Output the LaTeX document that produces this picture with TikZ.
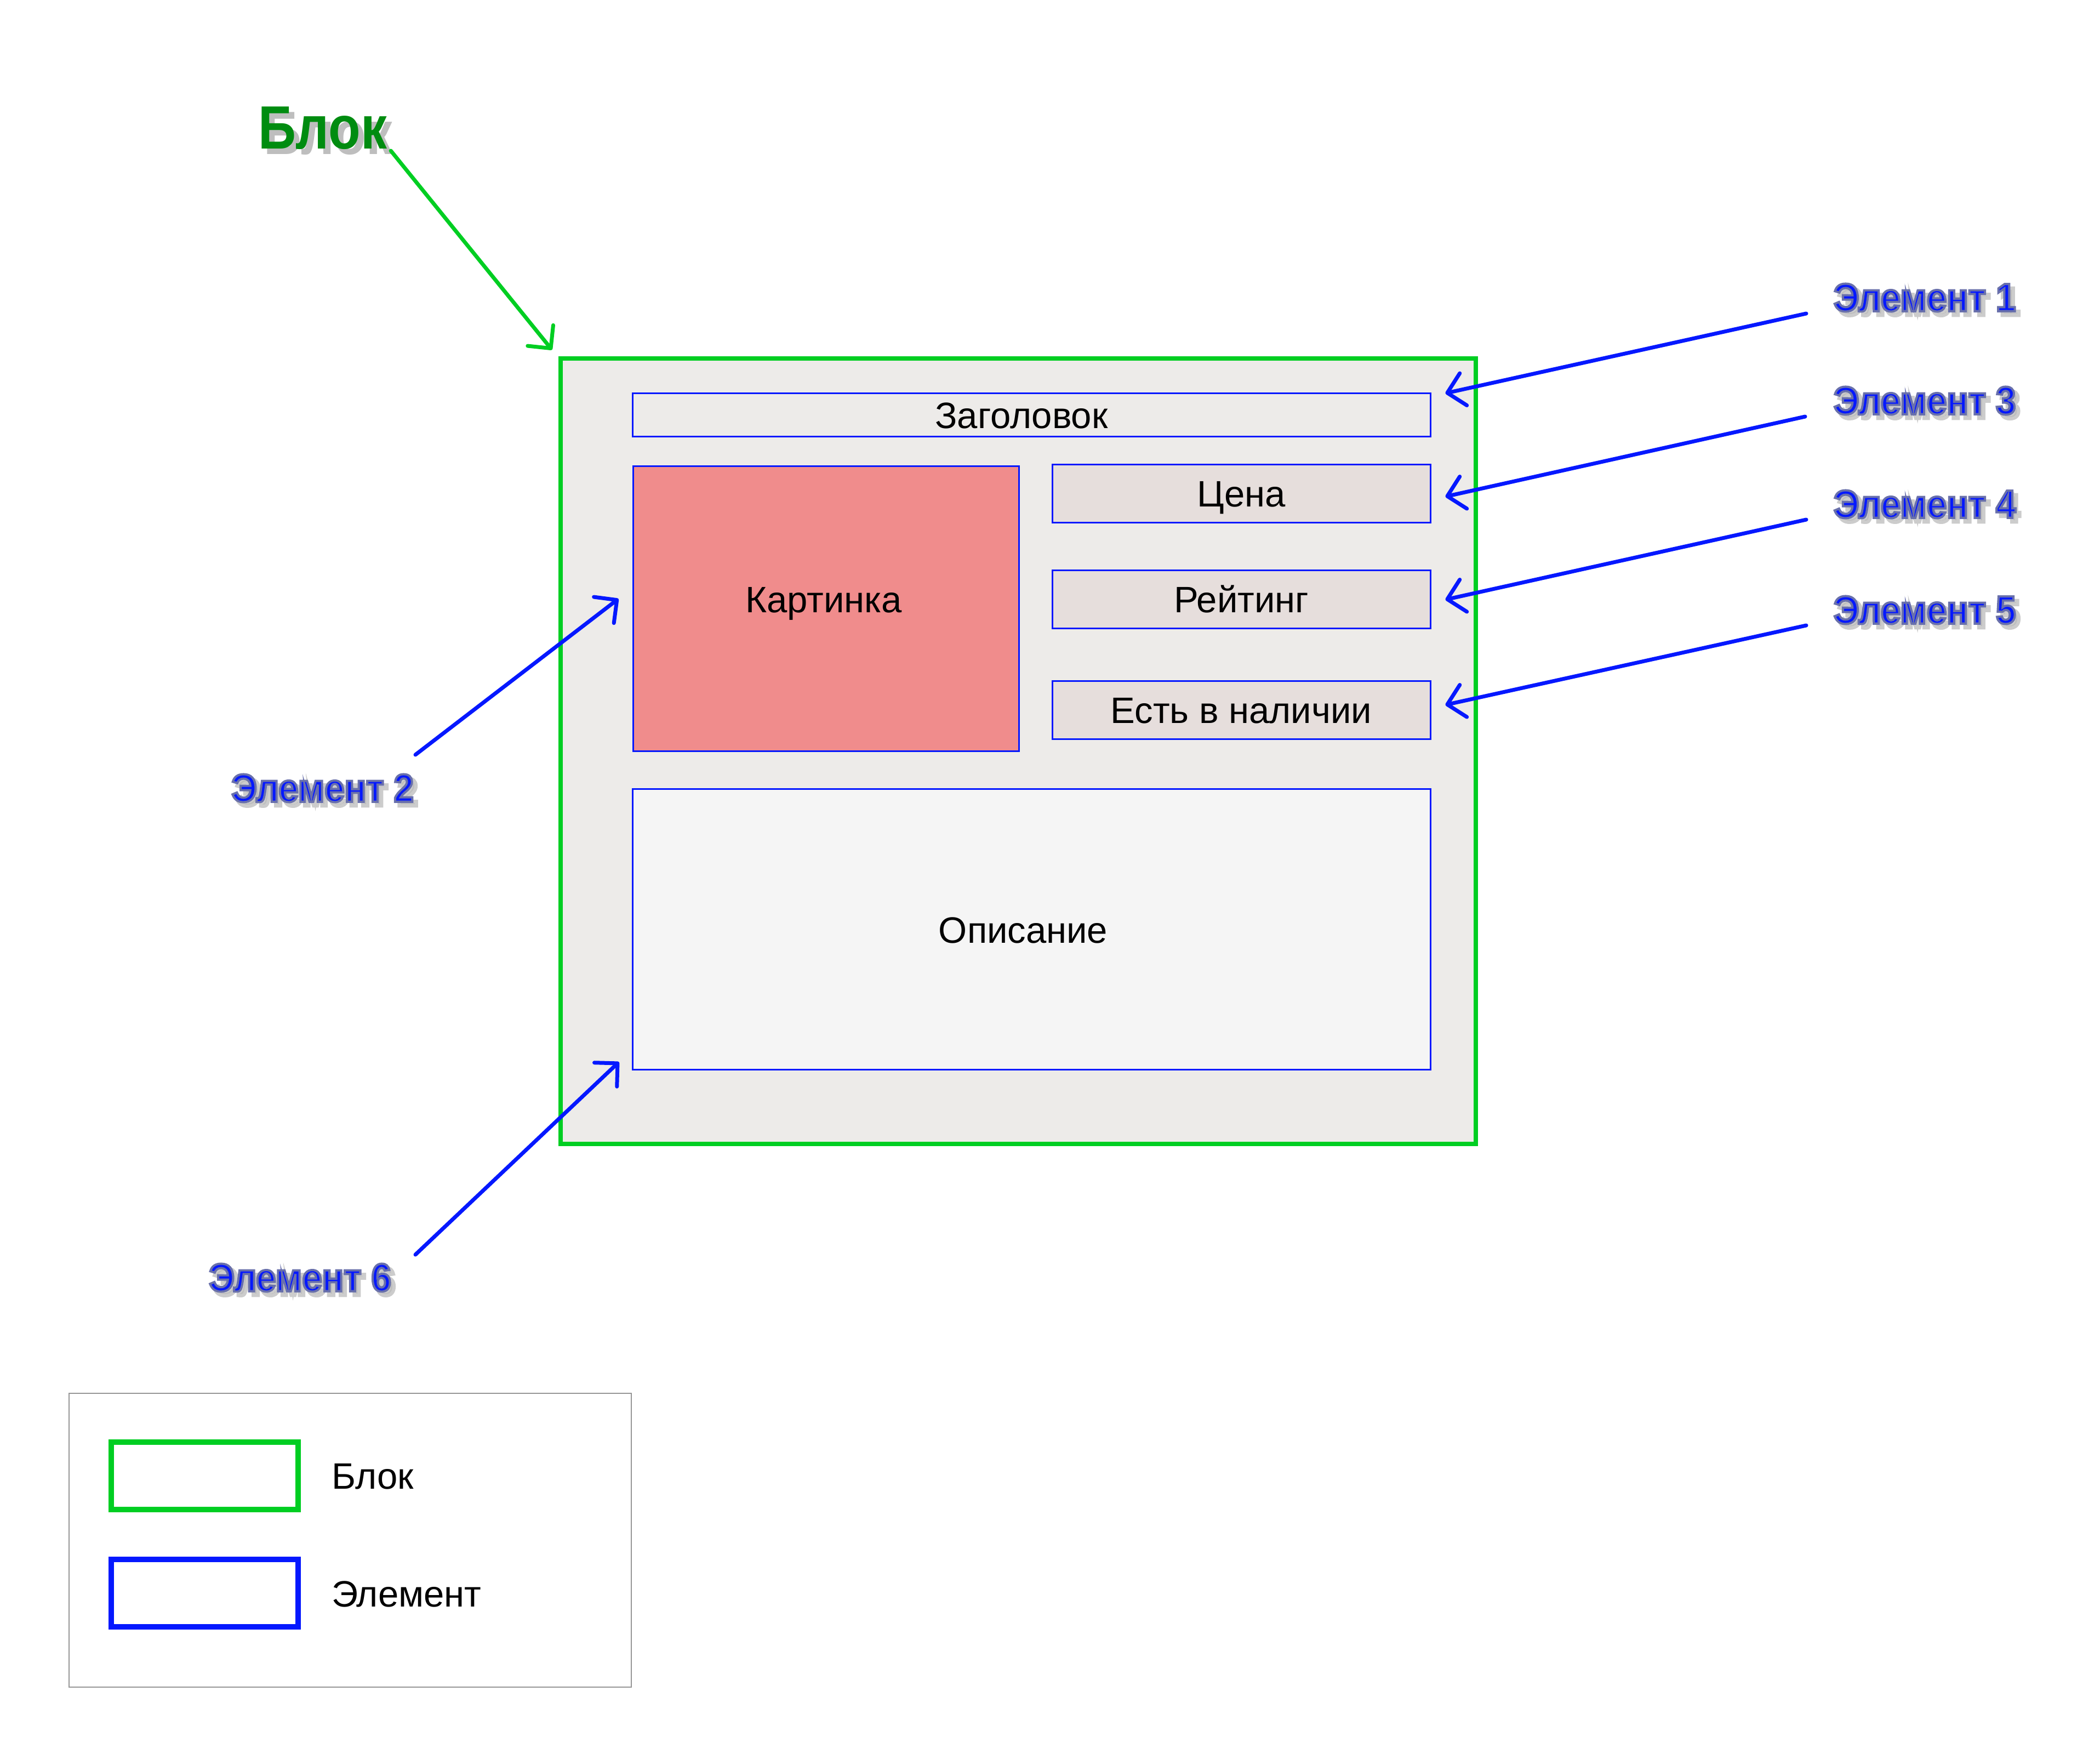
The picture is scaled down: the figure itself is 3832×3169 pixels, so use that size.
\documentclass[tikz,border=0pt]{standalone}
\usepackage{fontspec}
\setmainfont{Liberation Sans}
\newfontfamily\condbold[FakeStretch=0.91]{Liberation Sans}
\newfontfamily\titlebold[FakeStretch=0.86]{Liberation Sans}
\usetikzlibrary{arrows.meta,calc}
\definecolor{blkgreen}{RGB}{0,206,34}
\definecolor{titlegreen}{RGB}{0,140,16}
\definecolor{elblue}{RGB}{5,24,255}
\definecolor{mainfill}{RGB}{237,235,233}
\definecolor{pinkfill}{RGB}{240,140,140}
\definecolor{smallfill}{RGB}{230,222,220}
\definecolor{descfill}{RGB}{245,245,245}
\definecolor{legframe}{RGB}{150,150,150}
\definecolor{shadowgray}{RGB}{190,190,190}
% outlined text: fill from current colour, stroke in the given rgb
\newcommand{\outlinedtext}[3]{\special{pdf:literal direct 2 Tr #1 w #2 RG}#3\special{pdf:literal direct 0 Tr 0.4 w}}
\newcommand{\elemlabel}[4]{% name, anchor, position, text
  \node[elemtxt, anchor=#2, text=shadowgray, xshift=1.5pt, yshift=-1.5pt] (#1-sh) at (#3) {\outlinedtext{1.2}{0.80 0.80 0.80}{#4}};
  \node[elemtxt, anchor=#2, text=elblue] (#1) at (#3) {\outlinedtext{0.8}{0.41 0.44 0.67}{#4}};
}
\begin{document}
\begin{tikzpicture}[x=0.2pt,y=-0.2pt,
  elemtxt/.style={inner sep=0pt, font=\condbold\bfseries\fontsize{14.4pt}{16pt}\selectfont, text height=10.3pt, text depth=0pt},
  titletxt/.style={inner sep=0pt, font=\titlebold\bfseries\fontsize{22.3pt}{25pt}\selectfont, text height=16pt, text depth=0pt},
  plain/.style={inner sep=0pt, font=\fontsize{13.4pt}{15pt}\selectfont, text height=9.6pt, text depth=0pt},
  elbox/.style={plain, draw=elblue, line width=0.6pt},
  arr/.style={line width=1.4pt, line cap=round, line join=round, -{Straight Barb[length=6pt,width=12pt,line cap=round,line join=round]}},
]
\fill[white] (0,0) rectangle (3832,3169);
\useasboundingbox (0,0) rectangle (3832,3169);

% main block
\node[draw=blkgreen, line width=1.5pt, fill=mainfill, inner sep=0pt, minimum width=334pt, minimum height=286.6pt] (main) at (1858,1370.5) {};

% elements
\node[elbox, fill=mainfill, minimum width=291pt, minimum height=15.8pt] (zag) at (1882.5,757.5) {};
\node[plain] (zagt) at (1864,757.5) {Заголовок};
\node[elbox, fill=pinkfill, minimum width=140.8pt, minimum height=103.8pt] (kart) at (1507,1110.5) {};
\node[plain] (kartt) at (1503,1094) {Картинка};
\node[elbox, fill=smallfill, minimum width=138pt, minimum height=21.2pt] (cena) at (2265,901) {Цена};
\node[elbox, fill=smallfill, minimum width=138pt, minimum height=21.2pt] (reit) at (2265,1094) {Рейтинг};
\node[elbox, fill=smallfill, minimum width=138pt, minimum height=21.2pt] (nal) at (2265,1296) {Есть в наличии};
\node[elbox, fill=descfill, minimum width=291pt, minimum height=102.2pt] (opis) at (1882.5,1695.5) {};
\node[plain] (opist) at (1867,1697) {Описание};

% title
\node[titletxt, anchor=west, text=shadowgray, xshift=2pt, yshift=-2pt] (blk-sh) at (470,232) {Блок};
\node[titletxt, anchor=west, text=titlegreen] (blk) at (470,232) {Блок};

% element labels
\elemlabel{e1}{west}{3345,542}{Элемент 1}
\elemlabel{e3}{west}{3345,730}{Элемент 3}
\elemlabel{e4}{west}{3345,919}{Элемент 4}
\elemlabel{e5}{west}{3345,1112}{Элемент 5}
\elemlabel{e2}{east}{756,1437}{Элемент 2}
\elemlabel{e6}{east}{715,2330}{Элемент 6}

% arrows
\draw[arr, draw=blkgreen] ($(blk.east)+(6,43)$) -- ($(main.north west)+(-12,-12)$);
\draw[arr, draw=elblue] ($(e1.west)+(-49,30)$) -- ($(zag.east)+(26,-40)$);
\draw[arr, draw=elblue] ($(e3.west)+(-51,30)$) -- ($(cena.east)+(26,5)$);
\draw[arr, draw=elblue] ($(e4.west)+(-49,29)$) -- ($(reit.east)+(26,0)$);
\draw[arr, draw=elblue] ($(e5.west)+(-49,29)$) -- ($(nal.east)+(26,-10)$);
\draw[arr, draw=elblue] ($(e2.east)+(2,-60)$) -- ($(kart.west)+(-25,-18)$);
\draw[arr, draw=elblue] ($(e6.east)+(43,-41)$) -- ($(opis.south west)+(-24,-15)$);

% legend
\node[draw=legframe, line width=0.4pt, inner sep=0pt, minimum width=205.2pt, minimum height=107.2pt] (legend) at (639,2810) {};
\node[draw=blkgreen, line width=2pt, inner sep=0pt, minimum width=68.2pt, minimum height=24.6pt] (legblk) at (373.5,2692.5) {};
\node[draw=elblue, line width=2pt, inner sep=0pt, minimum width=68.2pt, minimum height=24.6pt] (legel) at (373.5,2906.5) {};
\node[plain, anchor=west] (legblkt) at (604,2692.5) {Блок};
\node[plain, anchor=west] (legelt) at (604,2907) {Элемент};
\end{tikzpicture}
\end{document}
